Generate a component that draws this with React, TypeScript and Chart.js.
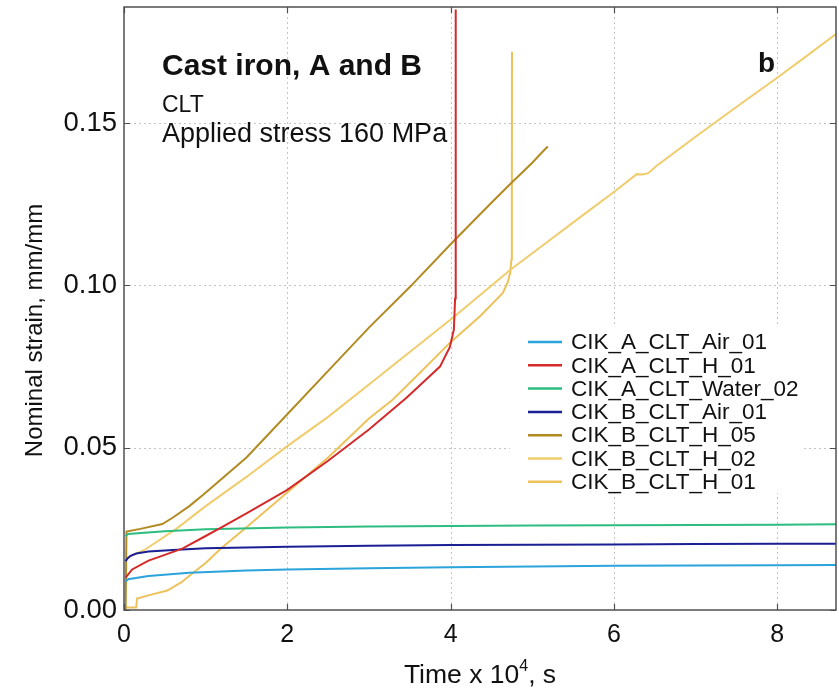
import { useEffect, useRef } from 'react';
import { Chart, registerables } from 'chart.js';

Chart.register(...registerables);

const W = 839;
const H = 688;
const FONT = '"Liberation Sans", Arial, Helvetica, sans-serif';

// ---- data (time in 10^4 s, nominal strain mm/mm) ----
const seriesNames = [
  'CIK_A_CLT_Air_01',
  'CIK_A_CLT_H_01',
  'CIK_A_CLT_Water_02',
  'CIK_B_CLT_Air_01',
  'CIK_B_CLT_H_05',
  'CIK_B_CLT_H_02',
  'CIK_B_CLT_H_01',
];
const seriesColors = ['#2BA3DB', '#D42A2A', '#2DBD80', '#1B1F94', '#B38A22', '#F0CC6C', '#EDC25A'];

const t_A_Air_01 = [0.02, 0.05, 0.3, 0.8, 1.5, 2, 3, 4, 5, 6, 7, 8, 8.72];
const e_A_Air_01 = [0.0088, 0.0095, 0.0105, 0.0115, 0.0122, 0.0125, 0.0129, 0.0132, 0.0134, 0.0136, 0.0137, 0.0138, 0.0139];

const t_A_H_01 = [0.02, 0.1, 0.3, 0.5, 0.72, 1.0, 1.21, 1.5, 2.0, 2.5, 3.0, 3.46, 3.7, 3.87, 3.99, 4.04, 4.055, 4.06, 4.065];
const e_A_H_01 = [0.01, 0.0125, 0.0152, 0.017, 0.019, 0.0228, 0.0257, 0.0298, 0.037, 0.046, 0.0556, 0.0654, 0.071, 0.075, 0.081, 0.0864, 0.096, 0.12, 0.185];

const t_A_Water_02 = [0.02, 0.05, 0.5, 1, 2, 3, 4, 5, 6, 7, 8, 8.72];
const e_A_Water_02 = [0.0228, 0.0234, 0.0243, 0.0249, 0.0254, 0.0257, 0.0259, 0.026, 0.0261, 0.0262, 0.0263, 0.0264];

const t_B_Air_01 = [0.02, 0.04, 0.08, 0.15, 0.3, 0.6, 1, 2, 3, 4, 5, 6, 7, 8, 8.72];
const e_B_Air_01 = [0.015, 0.0158, 0.0167, 0.0174, 0.018, 0.0185, 0.019, 0.0195, 0.0198, 0.02, 0.0201, 0.0202, 0.0203, 0.0204, 0.0204];

const t_B_H_05 = [0.02, 0.03, 0.2, 0.47, 0.6, 0.8, 0.97, 1.5, 2.0, 2.5, 3.0, 3.5, 4.05, 4.5, 4.74, 5.0, 5.1, 5.19];
const e_B_H_05 = [0.0, 0.0242, 0.025, 0.0265, 0.0285, 0.032, 0.0355, 0.047, 0.0603, 0.0737, 0.087, 0.0995, 0.114, 0.1255, 0.1315, 0.1378, 0.1405, 0.1428];

const t_B_H_02 = [0.03, 0.25, 0.64, 1.0, 1.5, 2.0, 2.5, 3.0, 3.5, 4.05, 4.74, 5.2, 5.6, 6.0, 6.28, 6.35, 6.42, 6.52, 7.0, 7.5, 8.0, 8.35, 8.72];
const e_B_H_02 = [0.016, 0.0185, 0.025, 0.032, 0.041, 0.0505, 0.0595, 0.0695, 0.0795, 0.0905, 0.105, 0.1137, 0.1213, 0.1288, 0.1343, 0.1342, 0.1346, 0.1368, 0.1458, 0.155, 0.164, 0.1705, 0.1775];

const t_B_H_01 = [0.0, 0.15, 0.16, 0.3, 0.53, 0.7, 0.84, 1.0, 1.19, 1.5, 2.11, 2.5, 3.0, 3.29, 3.6, 3.99, 4.36, 4.64, 4.7, 4.73, 4.745, 4.75, 4.752];
const e_B_H_01 = [0.0008, 0.0008, 0.0035, 0.0045, 0.006, 0.0085, 0.0113, 0.0145, 0.019, 0.0255, 0.0386, 0.047, 0.059, 0.0648, 0.0725, 0.0823, 0.0905, 0.0977, 0.101, 0.104, 0.108, 0.125, 0.172];

const seriesT = [t_A_Air_01, t_A_H_01, t_A_Water_02, t_B_Air_01, t_B_H_05, t_B_H_02, t_B_H_01];
const seriesE = [e_A_Air_01, e_A_H_01, e_A_Water_02, e_B_Air_01, e_B_H_05, e_B_H_02, e_B_H_01];

const xMin = 0;
const xMax = 8.72;
const yMin = 0;
const yMax = 0.1858;

const titleText = 'Cast iron, A and B';
const subText1 = 'CLT';
const subText2 = 'Applied stress 160 MPa';
const panelLetter = 'b';
const yTitle = 'Nominal strain, mm/mm';

const decor = {
  id: 'decor',
  beforeDatasetsDraw(chart: any) {
    const { ctx, chartArea: a, scales } = chart;
    const x = scales.x;
    const y = scales.y;
    ctx.save();
    ctx.strokeStyle = '#c4c4c4';
    ctx.lineWidth = 1;
    ctx.setLineDash([2, 3]);
    x.ticks.forEach((t: any) => {
      if (t.value <= x.min || t.value >= x.max) return;
      const px = Math.round(x.getPixelForValue(t.value)) + 0.5;
      ctx.beginPath();
      ctx.moveTo(px, a.top);
      ctx.lineTo(px, a.bottom);
      ctx.stroke();
    });
    y.ticks.forEach((t: any) => {
      if (t.value <= y.min || t.value >= y.max) return;
      const py = Math.round(y.getPixelForValue(t.value)) + 0.5;
      ctx.beginPath();
      ctx.moveTo(a.left, py);
      ctx.lineTo(a.right, py);
      ctx.stroke();
    });
    ctx.restore();
  },
  afterDatasetsDraw(chart: any) {
    const { ctx, chartArea: a, scales } = chart;
    const x = scales.x;
    const y = scales.y;
    ctx.save();
    // frame
    ctx.setLineDash([]);
    ctx.strokeStyle = '#505050';
    ctx.lineWidth = 1.5;
    ctx.strokeRect(a.left, a.top, a.right - a.left, a.bottom - a.top);
    // inward ticks
    const tl = 6;
    ctx.lineWidth = 1.2;
    x.ticks.forEach((t: any) => {
      const px = Math.round(x.getPixelForValue(t.value)) + 0.5;
      ctx.beginPath();
      ctx.moveTo(px, a.bottom);
      ctx.lineTo(px, a.bottom - tl);
      ctx.moveTo(px, a.top);
      ctx.lineTo(px, a.top + tl);
      ctx.stroke();
    });
    y.ticks.forEach((t: any) => {
      const py = Math.round(y.getPixelForValue(t.value)) + 0.5;
      ctx.beginPath();
      ctx.moveTo(a.left, py);
      ctx.lineTo(a.left + tl, py);
      ctx.moveTo(a.right, py);
      ctx.lineTo(a.right - tl, py);
      ctx.stroke();
    });

    // legend box
    const bx = a.left + 386;
    const by = a.top + 320;
    ctx.fillStyle = '#ffffff';
    ctx.fillRect(bx, by, 293, 166);
    const lx = a.left + 404;
    const ly0 = a.top + 335;
    const step = 23.3;
    ctx.font = `22.5px ${FONT}`;
    ctx.textBaseline = 'middle';
    ctx.textAlign = 'left';
    seriesNames.forEach((name, i) => {
      const yy = ly0 + i * step;
      ctx.strokeStyle = seriesColors[i];
      ctx.lineWidth = 2.5;
      ctx.beginPath();
      ctx.moveTo(lx, yy);
      ctx.lineTo(lx + 34, yy);
      ctx.stroke();
      ctx.fillStyle = '#111';
      ctx.fillText(name, lx + 43, yy + 1);
    });

    // annotations
    ctx.fillStyle = '#111';
    ctx.textBaseline = 'alphabetic';
    ctx.font = `bold 30px ${FONT}`;
    ctx.fillText(titleText, a.left + 38, a.top + 68);
    ctx.font = `23px ${FONT}`;
    ctx.fillText(subText1, a.left + 38, a.top + 105);
    ctx.font = `27px ${FONT}`;
    ctx.fillText(subText2, a.left + 38, a.top + 135);
    ctx.font = `bold 28px ${FONT}`;
    ctx.fillText(panelLetter, a.left + 634, a.top + 65);

    // x title with superscript
    const cx = (a.left + a.right) / 2;
    const baseY = 683;
    ctx.font = `26.5px ${FONT}`;
    const p1 = 'Time x 10';
    const p3 = ', s';
    const w1 = ctx.measureText(p1).width;
    const w3 = ctx.measureText(p3).width;
    ctx.font = `16px ${FONT}`;
    const w2 = ctx.measureText('4').width;
    const total = w1 + w2 + w3;
    const sx = cx - total / 2;
    ctx.font = `26.5px ${FONT}`;
    ctx.fillText(p1, sx, baseY);
    ctx.font = `16px ${FONT}`;
    ctx.fillText('4', sx + w1, baseY - 12);
    ctx.font = `26.5px ${FONT}`;
    ctx.fillText(p3, sx + w1 + w2, baseY);

    // y title
    ctx.save();
    ctx.translate(35, (a.top + a.bottom) / 2 + 22);
    ctx.rotate(-Math.PI / 2);
    ctx.textAlign = 'center';
    ctx.textBaseline = 'middle';
    ctx.font = `24px ${FONT}`;
    ctx.fillText(yTitle, 0, 0);
    ctx.restore();

    ctx.restore();
  },
};

export default function App() {
  const ref = useRef<HTMLCanvasElement>(null);
  useEffect(() => {
    const datasets = seriesNames.map((name, i) => ({
      label: name,
      data: seriesT[i].map((t, j) => ({ x: t, y: seriesE[i][j] })),
      borderColor: seriesColors[i],
      backgroundColor: seriesColors[i],
      borderWidth: 2,
      pointRadius: 0,
      tension: 0,
      fill: false,
    }));
    const chart = new Chart(ref.current as HTMLCanvasElement, {
      type: 'line',
      data: { datasets },
      options: {
        responsive: false,
        animation: false,
        layout: { padding: { top: 7, right: 3, left: 0, bottom: 0 } },
        plugins: {
          legend: { display: false },
          tooltip: { enabled: false },
        },
        scales: {
          x: {
            type: 'linear',
            min: xMin,
            max: xMax,
            grid: { display: false, drawTicks: false },
            border: { display: false },
            ticks: {
              stepSize: 2,
              includeBounds: false,
              padding: 10,
              color: '#111',
              font: { family: FONT, size: 25 },
              maxRotation: 0,
              callback: (v: any) => String(v),
            },
            afterFit: (s: any) => {
              s.height = 78;
              s.paddingLeft = 0;
              s.paddingRight = 0;
            },
          },
          y: {
            type: 'linear',
            min: yMin,
            max: yMax,
            grid: { display: false, drawTicks: false },
            border: { display: false },
            ticks: {
              stepSize: 0.05,
              includeBounds: false,
              padding: 7,
              color: '#111',
              font: { family: FONT, size: 27.5 },
              callback: (v: any) => Number(v).toFixed(2),
            },
            afterFit: (s: any) => {
              s.width = 124;
              s.paddingTop = 0;
              s.paddingBottom = 0;
            },
          },
        },
      },
      plugins: [decor],
    });
    return () => chart.destroy();
  }, []);
  return (
    <div style={{ position: 'fixed', left: 0, top: 0, width: W, height: H, background: '#fff' }}>
      <canvas ref={ref} width={W} height={H} style={{ width: W, height: H, display: 'block' }} />
    </div>
  );
}
